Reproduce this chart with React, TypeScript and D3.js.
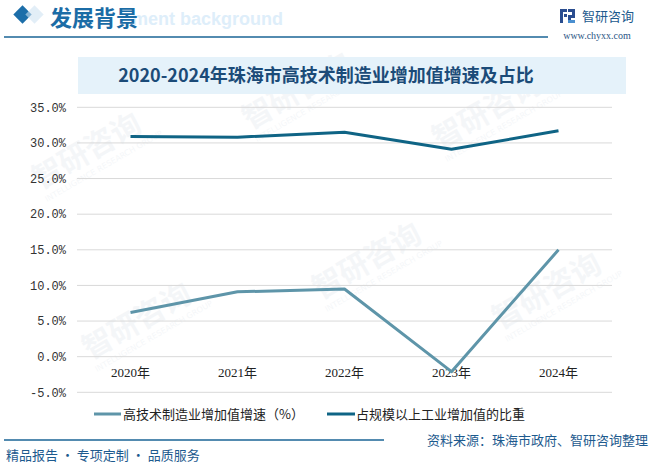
import React from "react";
import * as d3 from "d3";

const years = ["2020年", "2021年", "2022年", "2023年", "2024年"];
const growthRate = [6.2, 9.1, 9.5, -2.1, 15.0];
const shareRate = [30.9, 30.8, 31.5, 29.1, 31.7];
const yTicks = [-5, 0, 5, 10, 15, 20, 25, 30, 35];
const seriesNames = ["高技术制造业增加值增速（%）", "占规模以上工业增加值的比重"];
const title = "2020-2024年珠海市高技术制造业增加值增速及占比";

const W = 657, H = 468;
const cjk = "'Noto Sans CJK SC', 'Noto Sans', sans-serif";
const serif = "'Liberation Serif', 'Noto Sans CJK SC', serif";
const mono = "'Liberation Mono', 'DejaVu Sans Mono', monospace";

export default function App() {
  const x = d3.scaleBand<string>().domain(years).range([77, 612]);
  const y = d3.scaleLinear().domain([-5, 35]).range([392.3, 107.3]);
  const cx = (d: string) => (x(d) as number) + x.bandwidth() / 2;
  const line = d3.line<number>().x((_, i) => cx(years[i])).y((v) => y(v));
  const lightC = "#5e95a9";
  const darkC = "#0f6485";

  const wm: [number, number][] = [[40, 190], [250, 130], [440, 150], [90, 360], [320, 300], [500, 330]];

  return (
    <svg width={W} height={H} style={{ position: "absolute", left: 0, top: 0, background: "#fff" }}>
      {/* watermarks */}
      {wm.map(([a, b], i) => (
        <g key={i} transform={`translate(${a},${b}) rotate(-30)`} opacity={0.045}>
          <text fontFamily={cjk} fontSize={30} fill="#1a4a7a" fontWeight="bold">智研咨询</text>
          <text y={14} fontFamily="'DejaVu Sans', sans-serif" fontSize={8} fill="#1a4a7a">INTELLIGENCE RESEARCH GROUP</text>
        </g>
      ))}
      {/* header */}
      <rect x={16} y={8} width={13} height={13} fill="#1c6ea9" transform="rotate(45 22.5 14.5)" />
      <rect x={28} y={8} width={13} height={13} fill="#cfe3f2" opacity={0.6} transform="rotate(45 34.5 14.5)" />
      <text x={283} y={25} textAnchor="end" fontFamily="'Liberation Sans', Arial, sans-serif" fontWeight="bold" fontSize={18} fill="#deeefa">ment background</text>
      <text x={50} y={26} fontFamily={cjk} fontWeight="bold" fontSize={22} fill="#1b6ca6">发展背景</text>
      <line x1={4} x2={548} y1={37} y2={37} stroke="#1a6496" strokeWidth={1.5} />
      {/* logo */}
      <g transform="translate(560,9)">
        <rect x={0} y={0} width={7} height={3} fill="#2a4d8f" />
        <rect x={0} y={0} width={3} height={14} fill="#2a4d8f" />
        <rect x={4} y={5} width={3} height={3} fill="#2a4d8f" />
        <rect x={8} y={0} width={7} height={3} fill="#2a4d8f" />
        <rect x={12} y={0} width={3} height={8} fill="#2a4d8f" />
        <rect x={8} y={6} width={7} height={3} fill="#2a4d8f" />
        <rect x={8} y={6} width={3} height={8} fill="#2a4d8f" />
        <rect x={8} y={11} width={7} height={3} fill="#4a8fd0" />
      </g>
      <text x={582} y={21} fontFamily={cjk} fontSize={13} fill="#1d5a8e">智研咨询</text>
      <text x={597} y={39} textAnchor="middle" fontFamily={serif} fontSize={10} fill="#2b5585">www.chyxx.com</text>
      {/* title band */}
      <rect x={78} y={57} width={548} height={37} fill="#e5f2fa" />
      <text x={326} y={82} textAnchor="middle" fontFamily={cjk} fontWeight="bold" fontSize={18} fill="#1b4b78">{title}</text>
      {/* grid */}
      {yTicks.map((t) => (
        <g key={t}>
          <line x1={77} x2={612} y1={y(t)} y2={y(t)} stroke="#d9d9d9" strokeWidth={1} />
          <text x={66} y={y(t)} dy="0.35em" textAnchor="end" fontFamily={mono} fontSize={12} fill="#333">{t.toFixed(1) + "%"}</text>
        </g>
      ))}
      {years.map((yr) => (
        <text key={yr} x={cx(yr)} y={377} textAnchor="middle" fontFamily={serif} fontSize={13} fill="#222">{yr}</text>
      ))}
      {/* lines */}
      <path d={line(growthRate) as string} fill="none" stroke={lightC} strokeWidth={3} strokeLinejoin="round" />
      <path d={line(shareRate) as string} fill="none" stroke={darkC} strokeWidth={3} strokeLinejoin="round" />
      {/* legend */}
      <line x1={94} x2={121} y1={414} y2={414} stroke={lightC} strokeWidth={3} />
      <text x={123} y={419} fontFamily={cjk} fontSize={13} fill="#222">{seriesNames[0]}</text>
      <line x1={327} x2={355} y1={414} y2={414} stroke={darkC} strokeWidth={3} />
      <text x={356} y={419} fontFamily={cjk} fontSize={13} fill="#222">{seriesNames[1]}</text>
      {/* footer */}
      <line x1={4} x2={384} y1={440} y2={440} stroke="#1a6496" strokeWidth={1.5} />
      <text x={6} y={460} fontFamily={cjk} fontSize={13} fill="#1d5a8e">精品报告 · 专项定制 · 品质服务</text>
      <text x={648} y={445} textAnchor="end" fontFamily={cjk} fontSize={13} fill="#1d5a8e">资料来源：珠海市政府、智研咨询整理</text>
    </svg>
  );
}
